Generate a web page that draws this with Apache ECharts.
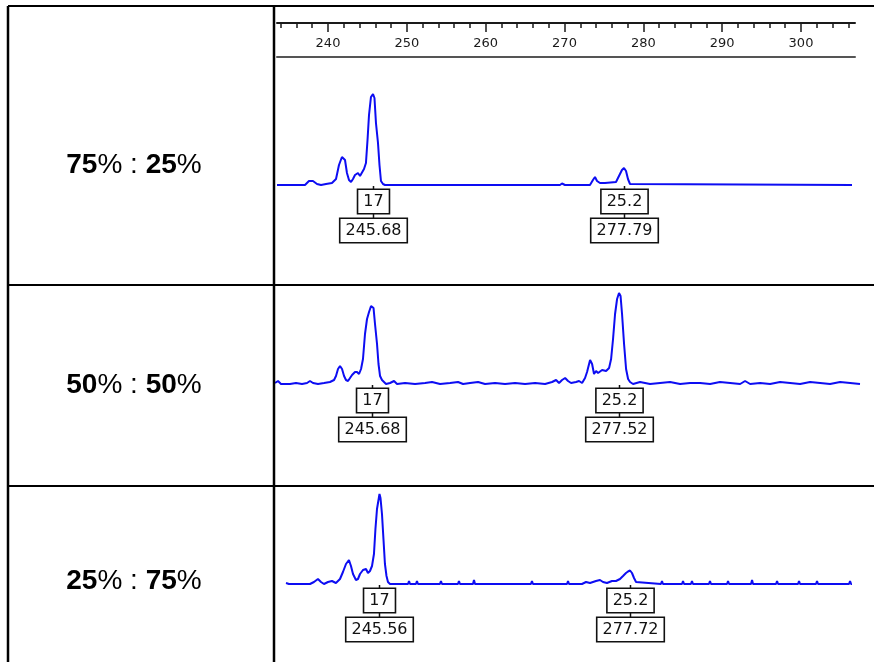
<!DOCTYPE html>
<html>
<head>
<meta charset="utf-8">
<title>Allele mixture electropherograms</title>
<script src="https://cdn.jsdelivr.net/npm/echarts@6/dist/echarts.min.js"></script>
<style>
  html, body { margin: 0; padding: 0; background: #ffffff; }
  #chart { width: 874px; height: 662px; }
</style>
</head>
<body>
<div id="chart"></div>
<script>
// Ruler (fragment size in bp)
const rulerMajorTicks = [240, 250, 260, 270, 280, 290, 300];
const rulerMinorTicks = [234, 236, 238, 242, 244, 246, 248, 252, 254, 256, 258,
  262, 264, 266, 268, 272, 274, 276, 278, 282, 284, 286, 288, 292, 294, 296, 298,
  302, 304, 306];

// Mixture ratios shown in the left column
const mixRatios = [['75', '25'], ['50', '50'], ['25', '75']];

// Called alleles and their sizes (bp) for each mixture
const alleleNames = ['17', '25.2'];
const sizes75 = [245.68, 277.79];
const sizes50 = [245.68, 277.52];
const sizes25 = [245.56, 277.72];

// Traces: [size in bp, signal in RFU]
const trace75 = [[233.40,0],[236.98,0],[237.49,40],[238.00,40],[238.52,10],[239.03,0],[239.67,10],[240.43,20],[240.95,60],[241.33,200],[241.71,280],[242.10,250],[242.35,120],[242.61,50],[242.87,30],[243.12,60],[243.38,100],[243.76,120],[244.02,90],[244.27,110],[244.53,160],[244.78,220],[244.98,450],[245.17,700],[245.42,880],[245.68,910],[245.87,870],[246.06,620],[246.32,420],[246.51,200],[246.70,40],[246.96,10],[247.22,0],[269.60,0],[269.86,15],[270.24,0],[273.44,0],[273.82,50],[274.08,80],[274.34,40],[274.72,20],[275.36,20],[276.77,30],[277.15,90],[277.53,150],[277.79,170],[278.05,140],[278.30,60],[278.56,10],[278.81,0],[306.96,0]];

const trace50 = [[233.18,10],[233.57,30],[233.95,0],[235.11,0],[235.89,10],[236.66,0],[237.31,10],[237.69,30],[238.08,10],[238.72,0],[239.50,10],[240.27,20],[240.79,40],[241.04,80],[241.30,150],[241.56,180],[241.82,150],[242.08,80],[242.33,40],[242.59,30],[242.85,60],[243.11,90],[243.49,120],[243.75,120],[244.01,100],[244.27,150],[244.52,250],[244.78,500],[245.04,650],[245.30,720],[245.56,780],[245.68,790],[245.88,760],[246.07,600],[246.33,400],[246.52,200],[246.72,80],[246.97,40],[247.23,20],[247.49,0],[248.01,10],[248.52,30],[248.91,0],[249.94,10],[251.23,0],[252.52,10],[253.42,20],[254.45,0],[255.74,10],[256.77,20],[257.42,0],[258.32,10],[259.35,20],[260.25,0],[261.54,10],[262.83,0],[264.12,10],[265.41,0],[266.70,10],[267.99,0],[268.89,20],[269.41,40],[269.79,10],[270.18,40],[270.57,60],[270.95,30],[271.34,10],[271.98,20],[272.37,30],[272.76,10],[273.14,60],[273.40,120],[273.79,240],[274.05,200],[274.30,100],[274.56,130],[274.82,110],[275.34,140],[275.85,130],[276.24,160],[276.50,250],[276.75,450],[277.01,700],[277.27,850],[277.52,910],[277.72,880],[277.91,700],[278.17,400],[278.43,150],[278.69,50],[278.94,20],[279.33,0],[280.23,20],[281.52,0],[282.81,10],[284.10,20],[285.39,0],[286.68,10],[287.97,10],[289.26,0],[290.53,20],[291.84,10],[293.13,0],[293.77,30],[294.42,0],[295.70,10],[296.99,0],[298.28,20],[299.57,10],[300.86,0],[302.15,20],[303.44,10],[304.72,0],[306.02,20],[307.31,10],[308.58,0]];

const trace25 = [[233.56,10],[233.94,0],[236.64,0],[237.15,20],[237.66,50],[238.05,20],[238.43,0],[238.95,20],[239.46,30],[239.97,10],[240.49,50],[240.87,120],[241.26,200],[241.64,240],[241.90,180],[242.16,100],[242.54,40],[242.80,50],[243.06,100],[243.44,140],[243.83,150],[244.08,110],[244.34,130],[244.60,180],[244.85,300],[245.04,550],[245.24,750],[245.56,900],[245.69,860],[245.88,700],[246.07,450],[246.26,200],[246.46,80],[246.65,20],[246.91,0],[249.22,0],[249.35,30],[249.48,0],[250.24,0],[250.37,30],[250.50,0],[253.32,0],[253.45,30],[253.58,0],[255.63,0],[255.76,30],[255.89,0],[257.56,0],[257.69,40],[257.82,0],[265.00,0],[265.13,30],[265.26,0],[269.63,0],[269.76,30],[269.89,0],[271.55,0],[272.07,20],[272.58,10],[273.35,30],[273.86,40],[274.25,20],[274.76,10],[275.40,30],[275.92,30],[276.43,50],[276.82,80],[277.20,110],[277.46,125],[277.72,135],[277.97,110],[278.23,60],[278.49,20],[278.74,0],[281.69,0],[281.82,30],[281.95,0],[284.39,0],[284.52,30],[284.65,0],[285.54,0],[285.67,30],[285.80,0],[287.85,0],[287.98,30],[288.11,0],[290.17,0],[290.30,30],[290.43,0],[293.25,0],[293.38,40],[293.51,0],[296.46,0],[296.59,30],[296.72,0],[299.28,0],[299.41,30],[299.54,0],[301.59,0],[301.72,30],[301.85,0],[305.83,0],[305.96,30],[306.09,0],[306.21,0]];

const TRACE_COLOR = '#0d0df2';
const INK = '#1a1a1a';
const BOX_FONT = '16px "DejaVu Sans", sans-serif';

// Each panel: plot area in pixels and the size range it spans
const panels = [
  { trace: trace75, sizes: sizes75, left: 277, right: 22, top: 85, bottom: 477, min: 233.40, max: 306.96 },
  { trace: trace50, sizes: sizes50, left: 275, right: 14, top: 284, bottom: 278, min: 233.18, max: 308.58 },
  { trace: trace25, sizes: sizes25, left: 286, right: 22, top: 484, bottom: 78, min: 233.56, max: 306.21 }
];

const grids = [];
const xAxes = [];
const yAxes = [];
const series = [];

// Ruler: three stacked grids of identical width, one axis each
const rulerRange = { min: 233.53, max: 306.85 };
const rulerBox = { left: 277, right: 19, top: 23, height: 34 };
function addRulerAxis(axis) {
  const g = grids.length;
  grids.push(Object.assign({}, rulerBox));
  xAxes.push(Object.assign({ type: 'value', gridIndex: g, splitLine: { show: false } }, rulerRange, axis));
  yAxes.push({ type: 'value', gridIndex: g, show: false, min: 0, max: 1 });
}
// top line, long ticks and labels every 10 bp
addRulerAxis({
  position: 'top',
  axisLine: { show: true, onZero: false, lineStyle: { color: INK, width: 2 } },
  axisTick: { show: true, inside: true, length: 9, customValues: rulerMajorTicks, lineStyle: { color: INK, width: 1.5 } },
  axisLabel: { show: true, inside: true, margin: 14, customValues: rulerMajorTicks,
    color: '#1a1a1a', fontSize: 13, fontFamily: '"DejaVu Sans", sans-serif' }
});
// short ticks every 2 bp
addRulerAxis({
  position: 'top',
  axisLine: { show: false, onZero: false },
  axisTick: { show: true, inside: true, length: 5, customValues: rulerMinorTicks, lineStyle: { color: INK, width: 1.5 } },
  axisLabel: { show: false }
});
// lower rule
addRulerAxis({
  position: 'bottom',
  axisLine: { show: true, onZero: false, lineStyle: { color: '#555', width: 2 } },
  axisTick: { show: false }, axisLabel: { show: false }
});

panels.forEach(function (p) {
  const g = grids.length;
  grids.push({ left: p.left, right: p.right, top: p.top, bottom: p.bottom });
  xAxes.push({ type: 'value', gridIndex: g, min: p.min, max: p.max, show: false });
  yAxes.push({ type: 'value', gridIndex: g, min: 0, max: 1000, show: false });
  const axisIdx = xAxes.length - 1;
  const yIdx = yAxes.length - 1;
  series.push({
    type: 'line', xAxisIndex: axisIdx, yAxisIndex: yIdx, data: p.trace,
    showSymbol: false, symbol: 'none', silent: true, smooth: false,
    lineStyle: { color: TRACE_COLOR, width: 2 }
  });
  // Allele call boxes hanging under each called peak
  series.push({
    type: 'custom', xAxisIndex: axisIdx, yAxisIndex: yIdx,
    data: p.sizes.map(function (s) { return [s, 0]; }),
    silent: true, clip: false,
    renderItem: function (params, api) {
      const pt = api.coord([api.value(0), 0]);
      const x = Math.round(pt[0]) + 0.5;
      const y = pt[1];
      const name = alleleNames[params.dataIndex];
      const sizeText = p.sizes[params.dataIndex].toFixed(2);
      const boxStyle = {
        font: BOX_FONT, fill: '#111', align: 'center', verticalAlign: 'top',
        backgroundColor: '#fff', borderColor: '#111', borderWidth: 1.6,
        padding: [2, 5, 1, 5], lineHeight: 20
      };
      return {
        type: 'group',
        children: [
          { type: 'line', shape: { x1: x, y1: y + 1, x2: x, y2: y + 5 }, style: { stroke: '#111', lineWidth: 1.5 } },
          { type: 'text', x: x, y: y + 5, style: Object.assign({ text: name }, boxStyle) },
          { type: 'line', shape: { x1: x, y1: y + 29, x2: x, y2: y + 34 }, style: { stroke: '#111', lineWidth: 1.5 } },
          { type: 'text', x: x, y: y + 34, style: Object.assign({ text: sizeText }, boxStyle) }
        ]
      };
    }
  });
});

// Table frame and the ratio labels in the left column
const tableLines = [
  [8, 6, 874, 6, 2],
  [8, 6, 8, 662, 2.5],
  [274, 6, 274, 662, 2.5],
  [8, 285, 874, 285, 2],
  [8, 486, 874, 486, 2]
];
const rowLabelY = [165, 385, 581];
const graphics = tableLines.map(function (l) {
  return { type: 'line', silent: true, z: 10,
    shape: { x1: l[0], y1: l[1], x2: l[2], y2: l[3] },
    style: { stroke: '#000', lineWidth: l[4] } };
});
mixRatios.forEach(function (r, i) {
  graphics.push({
    type: 'text', silent: true, x: 134, y: rowLabelY[i],
    style: {
      text: '{b|' + r[0] + '}{r|% : }{b|' + r[1] + '}{r|%}',
      align: 'center', verticalAlign: 'middle',
      rich: {
        b: { font: 'bold 28px "Liberation Sans", Arial, sans-serif', fill: '#000' },
        r: { font: '28px "Liberation Sans", Arial, sans-serif', fill: '#000' }
      }
    }
  });
});

const chart = echarts.init(document.getElementById('chart'), null, { renderer: 'canvas' });
chart.setOption({
  animation: false,
  backgroundColor: '#ffffff',
  grid: grids,
  xAxis: xAxes,
  yAxis: yAxes,
  series: series,
  graphic: graphics
});
</script>
</body>
</html>
